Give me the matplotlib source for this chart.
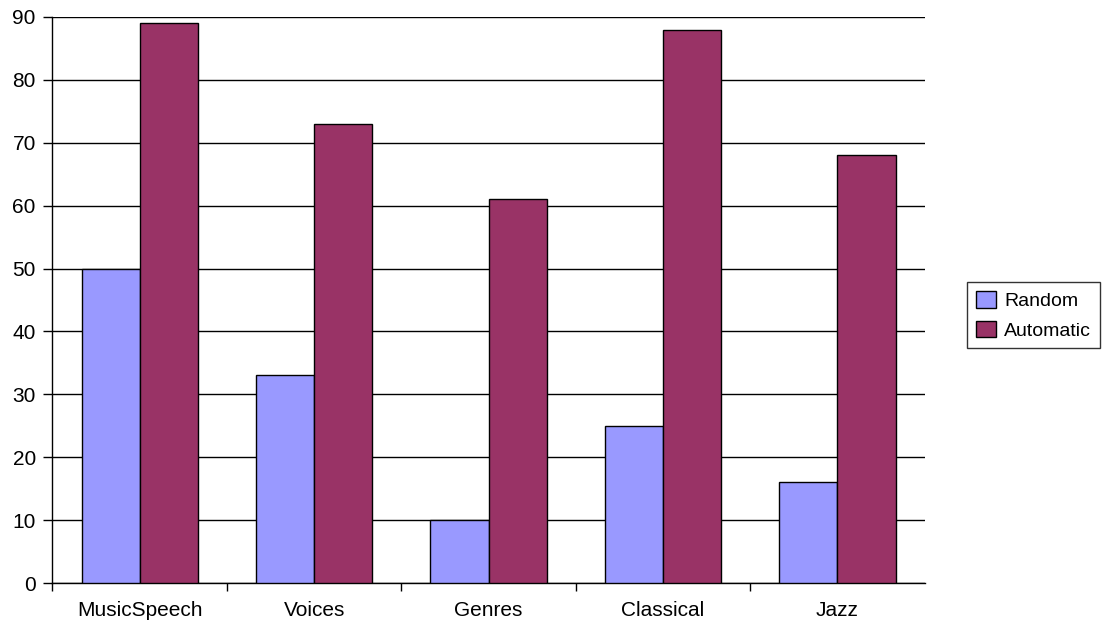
import matplotlib
matplotlib.use("Agg")
import matplotlib.pyplot as plt
import numpy as np

categories = ["MusicSpeech", "Voices", "Genres", "Classical", "Jazz"]
random_vals = [50, 33, 10, 25, 16]
automatic_vals = [89, 73, 61, 88, 68]
series_names = ["Random", "Automatic"]
y_ticks = [0, 10, 20, 30, 40, 50, 60, 70, 80, 90]

plt.rcParams["font.family"] = ["Liberation Sans", "DejaVu Sans"]
FS = 15

fig = plt.figure(figsize=(11.02, 6.24), dpi=100)
ax = fig.add_axes([0.0476, 0.0657, 0.7915, 0.9071])

x = np.arange(len(categories))
w = 1 / 3
ax.bar(x - w / 2, random_vals, w, color="#9999FF", edgecolor="black",
       linewidth=1.0, label=series_names[0], zorder=3)
ax.bar(x + w / 2, automatic_vals, w, color="#993366", edgecolor="black",
       linewidth=1.0, label=series_names[1], zorder=3)

ax.set_xlim(-0.5, len(categories) - 0.5)
ax.set_ylim(0, 90)
ax.set_yticks(y_ticks)
ax.yaxis.grid(True, color="black", linewidth=1.0, zorder=0)

# category labels centred, tick marks on the group boundaries
ax.set_xticks(x)
ax.set_xticklabels(categories, fontsize=FS)
ax.tick_params(axis="x", which="major", length=0, pad=13)
ax.set_xticks(np.arange(-0.5, len(categories) - 1), minor=True)
ax.tick_params(axis="x", which="minor", length=6, width=1, direction="out")
ax.tick_params(axis="y", labelsize=FS, length=6.5, width=1, direction="out", pad=5.5)

for side in ("top", "right"):
    ax.spines[side].set_visible(False)
for side in ("left", "bottom"):
    ax.spines[side].set_color("black")
    ax.spines[side].set_linewidth(1.0)

leg = ax.legend(loc="center left", bbox_to_anchor=(1.049, 0.473), fontsize=14,
                frameon=True, fancybox=False, edgecolor="black",
                handlelength=1.0, handleheight=0.95, handletextpad=0.45,
                borderpad=0.45, labelspacing=0.55, borderaxespad=0)
leg.get_frame().set_linewidth(1.0)

fig.savefig("out.png", dpi=100)
